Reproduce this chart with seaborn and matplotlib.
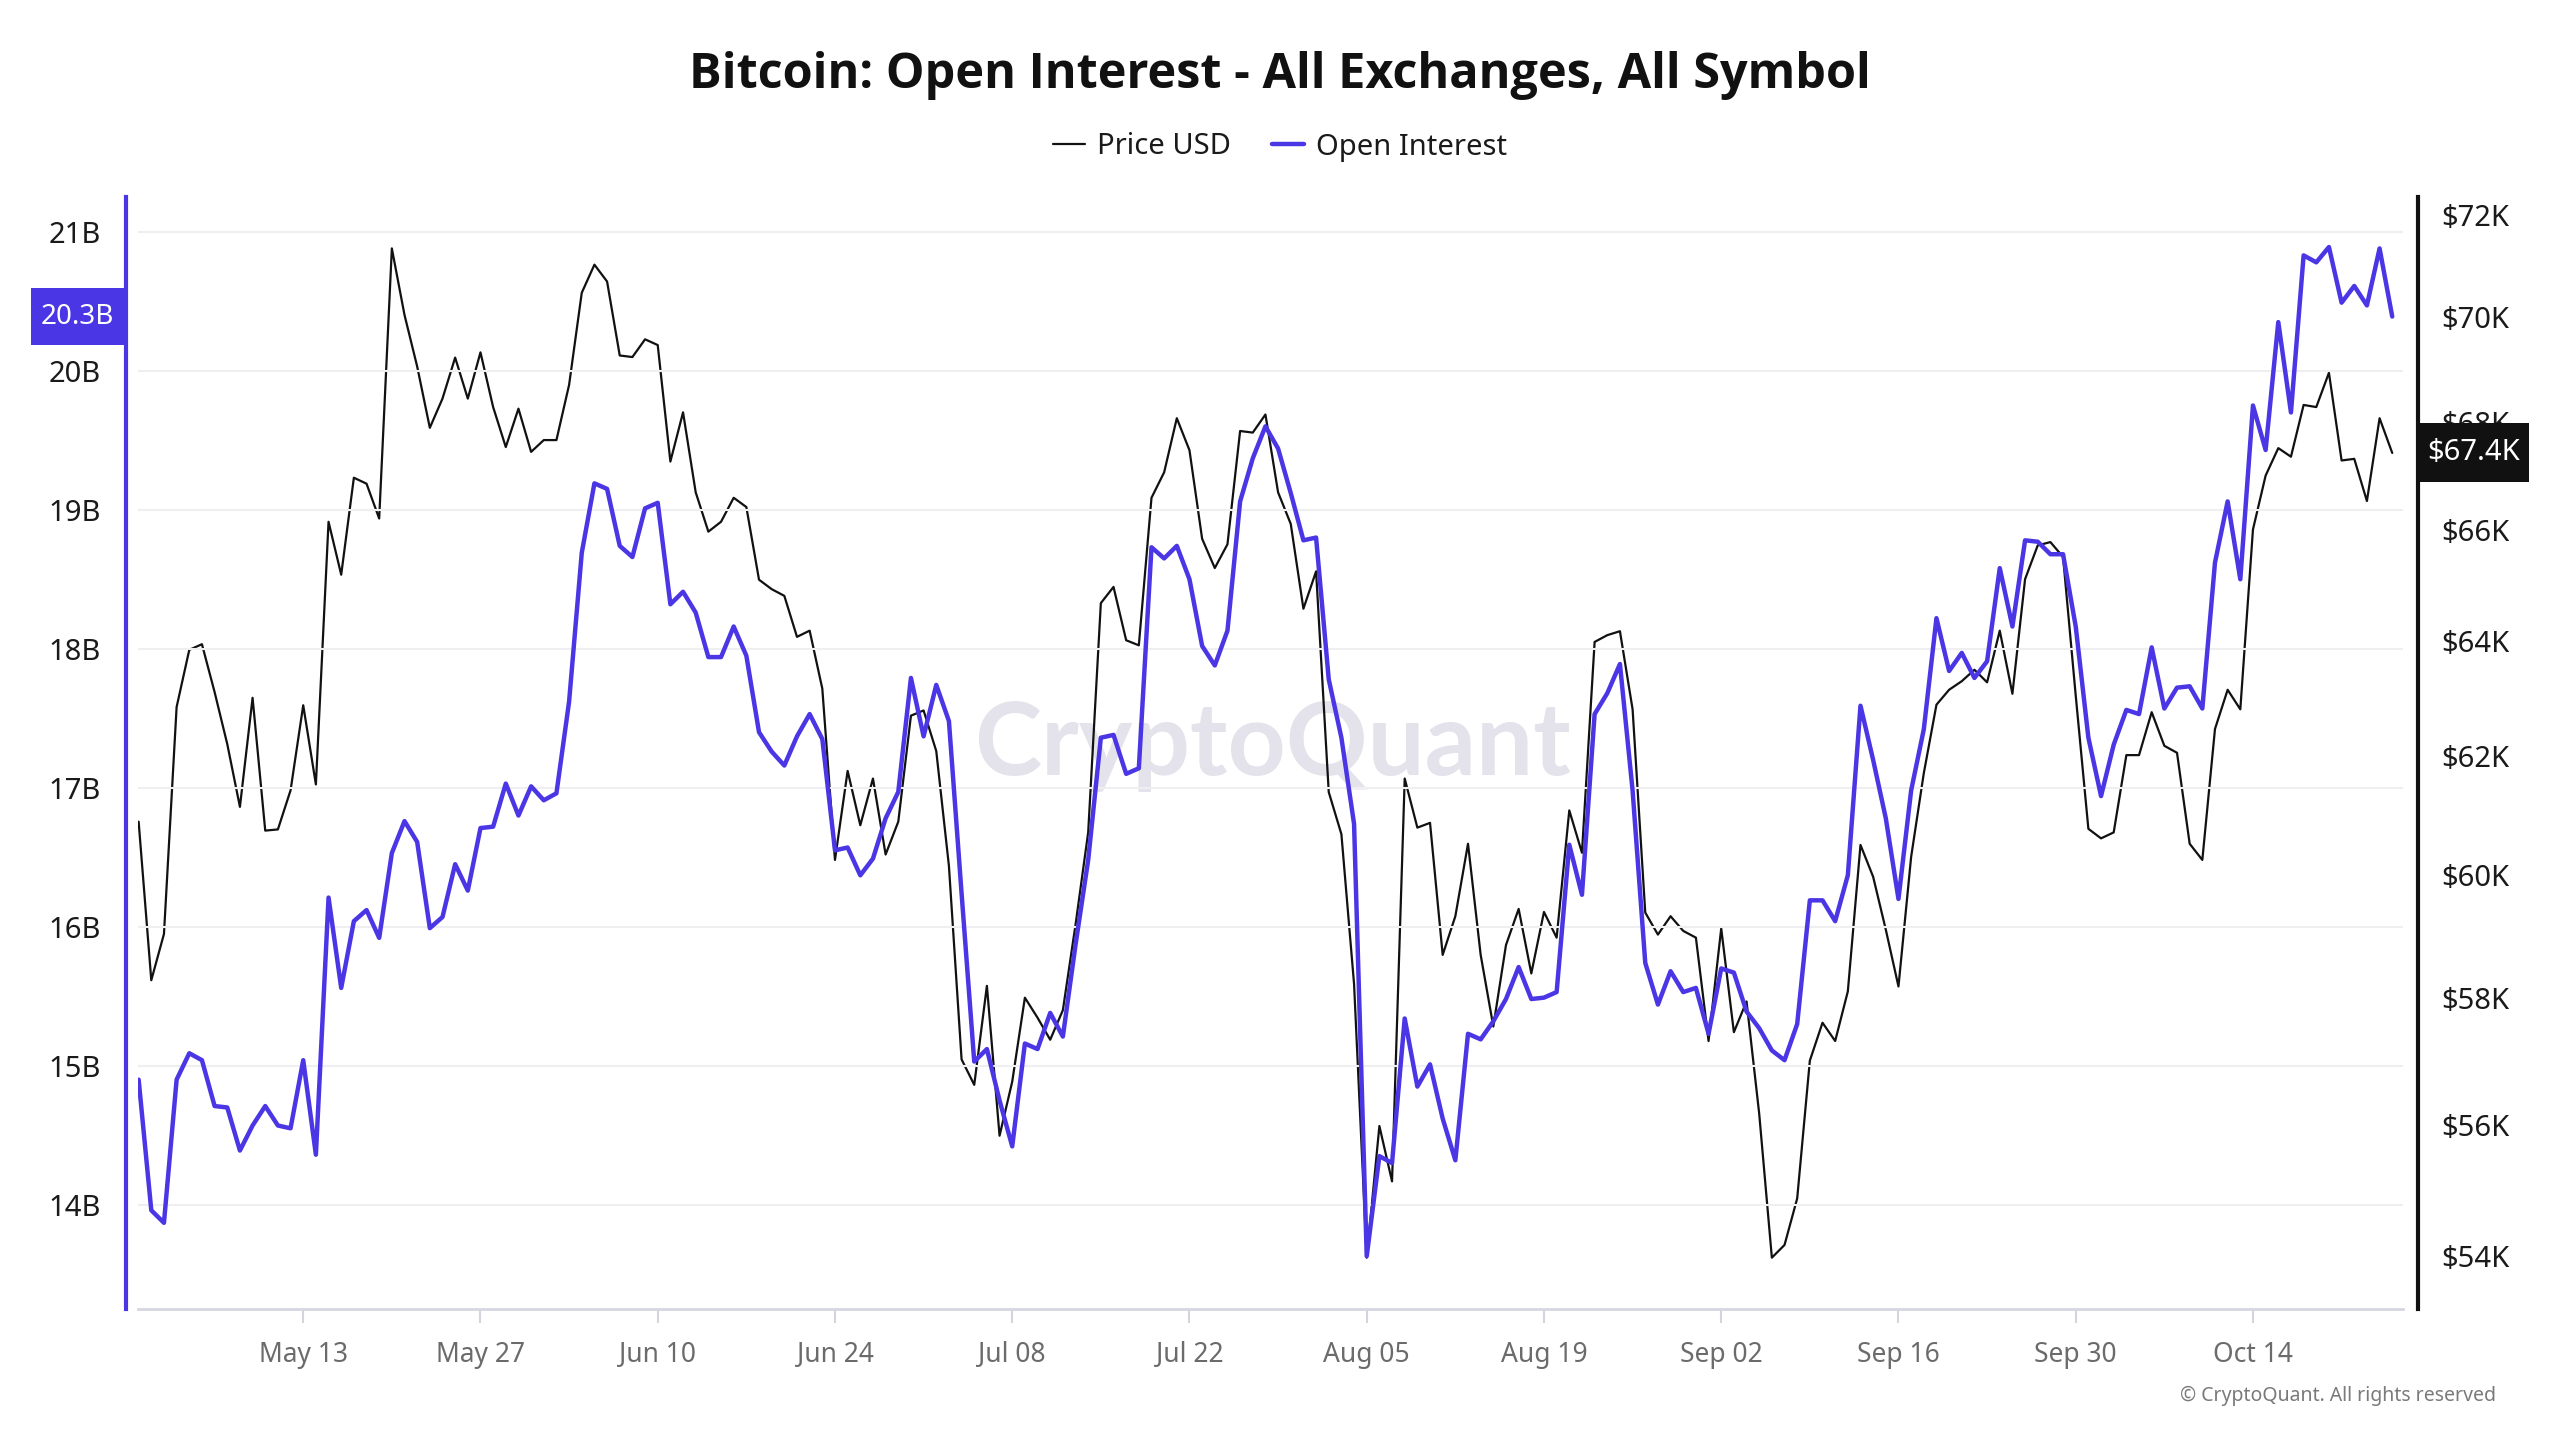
import math
import numpy as np
import pandas as pd
import matplotlib
matplotlib.use("Agg")
import matplotlib.pyplot as plt
import matplotlib.dates as mdates
import matplotlib.ticker as mticker
from matplotlib.patches import Rectangle
from matplotlib.lines import Line2D
import seaborn as sns

# ---------------- data ----------------
start_date = "2024-04-30"

open_interest_b = [
    14.90, 13.96, 13.87, 14.90, 15.09, 15.04, 14.71, 14.70, 14.39, 14.57,
    14.71, 14.57, 14.55, 15.04, 14.36, 16.21, 15.56, 16.04, 16.12, 15.92,
    16.53, 16.76, 16.61, 15.99, 16.07, 16.45, 16.26, 16.71, 16.72, 17.03,
    16.80, 17.01, 16.91, 16.96, 17.62, 18.69, 19.19, 19.15, 18.74, 18.66,
    19.01, 19.05, 18.32, 18.41, 18.26, 17.94, 17.94, 18.16, 17.95, 17.40,
    17.26, 17.16, 17.37, 17.53, 17.35, 16.55, 16.57, 16.37, 16.49, 16.78,
    16.97, 17.79, 17.37, 17.74, 17.48, 16.24, 15.03, 15.12, 14.75, 14.42,
    15.16, 15.12, 15.38, 15.21, 15.87, 16.48, 17.36, 17.38, 17.10, 17.14,
    18.73, 18.65, 18.74, 18.50, 18.02, 17.88, 18.13, 19.06, 19.37, 19.60,
    19.44, 19.12, 18.78, 18.80, 17.78, 17.36, 16.74, 13.63, 14.35, 14.30,
    15.34, 14.85, 15.01, 14.62, 14.32, 15.23, 15.19, 15.32, 15.48, 15.71,
    15.48, 15.49, 15.53, 16.59, 16.23, 17.53, 17.68, 17.89, 16.98, 15.74,
    15.44, 15.68, 15.53, 15.56, 15.23, 15.70, 15.67, 15.39, 15.27, 15.11,
    15.04, 15.30, 16.19, 16.19, 16.04, 16.37, 17.59, 17.20, 16.78, 16.20,
    16.98, 17.42, 18.22, 17.84, 17.97, 17.79, 17.91, 18.58, 18.16, 18.78,
    18.77, 18.68, 18.68, 18.16, 17.36, 16.94, 17.31, 17.56, 17.53, 18.01,
    17.57, 17.72, 17.73, 17.57, 18.62, 19.06, 18.50, 19.75, 19.43, 20.35,
    19.70, 20.83, 20.78, 20.89, 20.49, 20.61, 20.47, 20.88, 20.39,
]

price_usd = [
    60890, 58280, 59030, 62850, 63850, 63950, 63110, 62210, 61140, 63010,
    60740, 60760, 61420, 62880, 61520, 66150, 65190, 66960, 66850, 66210,
    71340, 70040, 69050, 67890, 68440, 69220, 68440, 69320, 68280, 67530,
    68250, 67440, 67660, 67660, 68700, 70470, 71020, 70690, 69260, 69230,
    69570, 69460, 67260, 68180, 66690, 65970, 66150, 66590, 66420, 65100,
    64930, 64810, 64080, 64190, 63170, 60250, 61750, 60830, 61620, 60340,
    60890, 62700, 62790, 62090, 60150, 57020, 56620, 58190, 55830, 56670,
    58000, 57680, 57330, 57800, 59180, 60710, 64680, 64970, 64020, 63930,
    66590, 67060, 68070, 67470, 65840, 65310, 65740, 67830, 67800, 68140,
    66690, 66110, 64580, 65250, 61390, 60680, 58220, 53980, 55980, 55130,
    61620, 60790, 60870, 58690, 59320, 60520, 58690, 57540, 58850, 59440,
    58390, 59390, 58970, 61080, 60370, 63990, 64110, 64180, 62810, 59380,
    59020, 59320, 59080, 58970, 57310, 59120, 57450, 57940, 56170, 53980,
    54170, 54870, 57000, 57600, 57310, 58100, 60500, 59970, 59100, 58180,
    60300, 61710, 62890, 63150, 63300, 63500, 63280, 64190, 63080, 65110,
    65720, 65780, 65510, 63050, 60770, 60610, 60710, 62020, 62020, 62760,
    62180, 62060, 60520, 60250, 62470, 63150, 62810, 66010, 67000, 67510,
    67350, 68320, 68280, 68930, 67280, 67310, 66530, 68070, 67420,
]

x_tick_dates = ["2024-05-13", "2024-05-27", "2024-06-10", "2024-06-24",
                "2024-07-08", "2024-07-22", "2024-08-05", "2024-08-19",
                "2024-09-02", "2024-09-16", "2024-09-30", "2024-10-14"]
oi_ticks = [14, 15, 16, 17, 18, 19, 20, 21]
price_ticks = [54000, 56000, 58000, 60000, 62000, 64000, 66000, 68000, 70000, 72000]

title_text = "Bitcoin: Open Interest - All Exchanges, All Symbol"
series_names = ["Price USD", "Open Interest"]

# ---------------- style ----------------
BLUE = "#4b36e6"
BLACK = "#111111"
W, H = 2560, 1440

sns.set_theme(style="white")
plt.rcParams["font.family"] = ["Noto Sans", "DejaVu Sans"]

dates = pd.date_range(start_date, periods=len(price_usd), freq="D")
df = pd.DataFrame({"date": dates, "oi": open_interest_b, "price": price_usd})

fig = plt.figure(figsize=(W / 100, H / 100), dpi=100)
fig.patch.set_facecolor("white")

left_px, right_px, top_px, bottom_px = 138, 2403, 197, 1309
ax = fig.add_axes([left_px / W, 1 - bottom_px / H,
                   (right_px - left_px) / W, (bottom_px - top_px) / H])
ax2 = ax.twinx()

# watermark (behind everything)
ax.text(0.501, 0.506, "CryptoQuant", transform=ax.transAxes, ha="center",
        va="center", fontsize=73, color="#e4e3ec", fontweight="bold",
        family=["Lato", "DejaVu Sans"], zorder=0)

# price on ax (right, log), OI on ax2 (left)
sns.lineplot(data=df, x="date", y="price", ax=ax, color=BLACK,
             linewidth=1.6, legend=False, zorder=2)
sns.lineplot(data=df, x="date", y="oi", ax=ax2, color=BLUE,
             linewidth=3.2, legend=False, zorder=3)

x0 = mdates.date2num(dates[0])
ax.set_xlim(x0 - 0.05, x0 + len(dates) - 1 + 0.85)

# right (price) axis
ax.set_yscale("log")
ax.set_ylim(53220, 72360)
ax.yaxis.set_major_locator(mticker.FixedLocator(price_ticks))
ax.yaxis.set_minor_locator(mticker.NullLocator())
ax.yaxis.set_major_formatter(mticker.FuncFormatter(lambda v, p: f"${v/1000:.0f}K"))
ax.yaxis.tick_right()
ax.tick_params(axis="y", which="both", right=True, left=False, length=0,
               pad=17, labelsize=21, labelcolor="#1a1a1a")

# left (OI) axis
ax2.set_ylim(13.25, 21.25)
ax2.yaxis.set_major_locator(mticker.FixedLocator(oi_ticks))
ax2.yaxis.set_major_formatter(mticker.FuncFormatter(lambda v, p: f"{v:.0f}B"))
ax2.yaxis.tick_left()
ax2.tick_params(axis="y", left=True, right=False, length=0, pad=17.5,
                labelsize=21, labelcolor="#1a1a1a")
ax2.grid(axis="y", color="#efeff2", linewidth=1.5)
ax2.grid(axis="x", visible=False)
ax.grid(False)
ax2.set_axisbelow(True)

# x axis
ax.xaxis.set_major_locator(mticker.FixedLocator(
    [mdates.date2num(pd.Timestamp(d)) for d in x_tick_dates]))
ax.xaxis.set_major_formatter(mdates.DateFormatter("%b %d"))
ax.tick_params(axis="x", bottom=True, length=10, width=1.5, color="#d4d4de",
               pad=13, labelsize=19, labelcolor="#6b6b6b")
ax2.tick_params(axis="x", bottom=False, labelbottom=False)

for a in (ax, ax2):
    a.set_xlabel("")
    a.set_ylabel("")
    a.set_facecolor("none")
    for s in a.spines.values():
        s.set_visible(False)

ax.patch.set_facecolor("white")
ax.spines["bottom"].set_visible(True)
ax.spines["bottom"].set_color("#d6d6e0")
ax.spines["bottom"].set_linewidth(2)
ax.spines["right"].set_visible(True)
ax.spines["right"].set_color(BLACK)
ax.spines["right"].set_linewidth(3)
ax.spines["right"].set_position(("outward", 10.5))
ax2.spines["left"].set_visible(True)
ax2.spines["left"].set_color(BLUE)
ax2.spines["left"].set_linewidth(3)
ax2.spines["left"].set_position(("outward", 9))

# current value labels (boxes sized in pixels, y from the data transform)
def value_tag(axis, value, text, x_left_px, x_right_px, h_px, color, fs):
    y_fig = (axis.transData + fig.transFigure.inverted()).transform((x0, value))[1]
    hf = h_px / H
    fig.patches.append(Rectangle((x_left_px / W, y_fig - hf / 2),
                                 (x_right_px - x_left_px) / W, hf,
                                 transform=fig.transFigure, fc=color, ec="none",
                                 zorder=10))
    fig.text((x_left_px + x_right_px) / 2 / W, y_fig, text, ha="center",
             va="center", fontsize=fs, color="white", zorder=11)

oi_last = open_interest_b[-1]
oi_label = f"{math.floor(oi_last * 10) / 10:.1f}B"
value_tag(ax2, oi_last, oi_label, 31, 124, 57, BLUE, 20)

p_last = price_usd[-1]
p_label = f"${p_last/1000:.1f}K"
value_tag(ax, p_last, p_label, 2418, 2529, 59, BLACK, 21)

# title & legend
fig.text(0.5, 1 - 76 / H, title_text, ha="center", va="center",
         fontsize=35, fontweight="bold", color="#111111",
         family=["Open Sans", "Lato", "DejaVu Sans"])
handles = [Line2D([], [], color=BLACK, linewidth=1.6),
           Line2D([], [], color=BLUE, linewidth=3.2)]
fig.legend(handles, series_names, loc="center", bbox_to_anchor=(0.5, 1 - 147 / H),
           ncol=2, frameon=False, fontsize=21, handlelength=1.1,
           handletextpad=0.4, columnspacing=1.4, labelcolor="#1a1a1a")

fig.text(2496 / W, 1 - 1396 / H, "\u00a9 CryptoQuant. All rights reserved",
         ha="right", va="center", fontsize=14, color="#7a7a7a")

fig.savefig("out.png", dpi=100, facecolor="white")
